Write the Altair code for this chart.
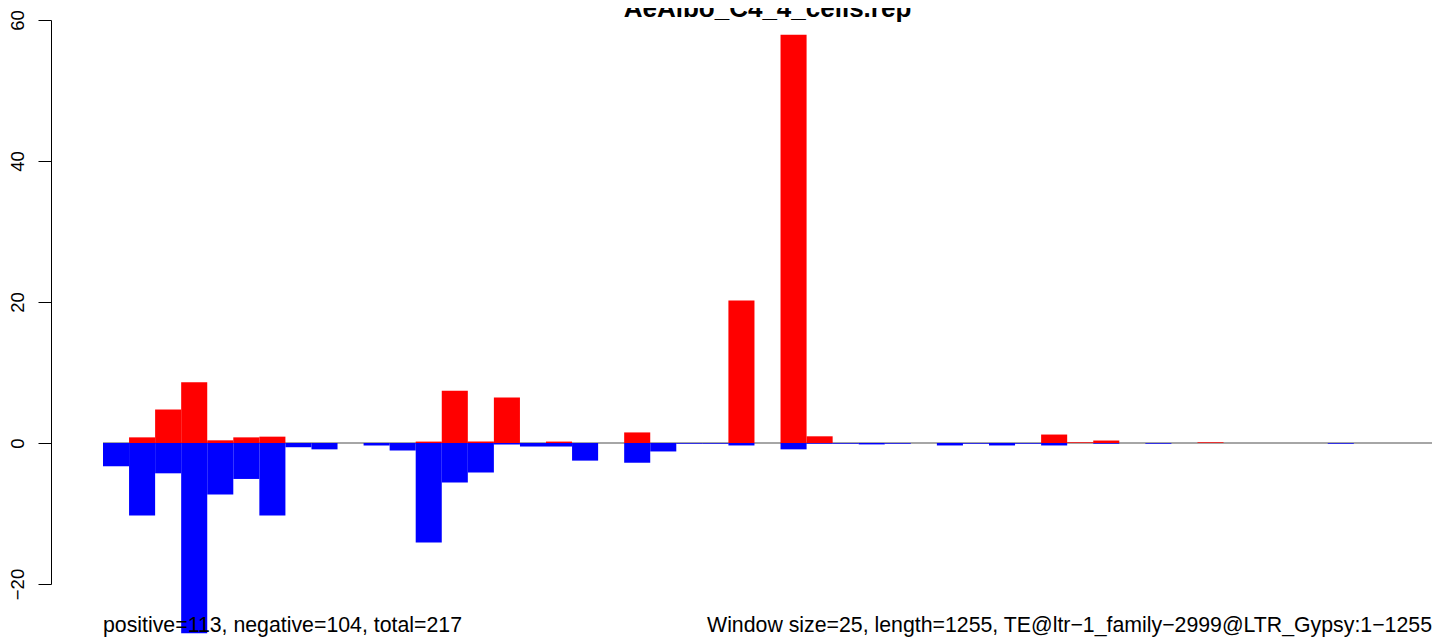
import altair as alt
import pandas as pd

# ---- data ----
title_text = "AeAlbo_C4_4_cells.rep"
left_note = "positive=113, negative=104, total=217"
right_note = "Window size=25, length=1255, TE@ltr\u22121_family\u22122999@LTR_Gypsy:1\u22121255"

positive = [0, 0.8, 4.75, 8.6, 0.38, 0.8, 0.9, 0, 0, 0,
            0, 0, 0.2, 7.4, 0.2, 6.45, 0, 0.2, 0, 0,
            1.5, 0, 0, 0, 20.2, 0, 57.9, 0.95, 0, 0,
            0, 0, 0, 0, 0, 0, 1.2, 0.1, 0.35, 0,
            0, 0, 0.1, 0, 0, 0, 0, 0, 0, 0, 0]
negative = [-3.3, -10.3, -4.3, -27.0, -7.3, -5.1, -10.3, -0.6, -0.9, 0,
            -0.35, -1.05, -14.1, -5.6, -4.2, -0.2, -0.5, -0.5, -2.5, 0,
            -2.8, -1.2, -0.1, -0.1, -0.35, 0, -0.9, -0.1, -0.1, -0.2,
            -0.1, 0, -0.35, -0.1, -0.35, -0.1, -0.35, 0, -0.1, 0,
            -0.1, 0, 0, 0, 0, 0, 0, -0.1, 0, 0, 0]
y_ticks = [-20, 0, 20, 40, 60]
strands = ["positive", "negative"]
strand_colors = ["#ff0000", "#0000ff"]

n = len(positive)
rows = []
for i in range(n):
    rows.append({"bin": i, "bin_end": i + 1, "value": positive[i], "base": 0, "strand": "positive"})
    rows.append({"bin": i, "bin_end": i + 1, "value": negative[i], "base": 0, "strand": "negative"})
bars_df = pd.DataFrame(rows)
zero_df = pd.DataFrame({"x0": [0], "x1": [n], "y0": [0]})

FONT = "Liberation Sans"
W, H = 1329, 564

xs = alt.Scale(domain=[0, n], nice=False, zero=False)
ys = alt.Scale(domain=[y_ticks[0], y_ticks[-1]], nice=False, zero=False)
yaxis = alt.Axis(values=y_ticks, offset=52, tickSize=13, tickWidth=1, tickColor="black",
                 domainColor="black", domainWidth=1, labelAngle=270, labelAlign="center",
                 labelBaseline="alphabetic", labelPadding=15, labelFont=FONT, labelFontSize=18.5,
                 labelColor="black", grid=False, title=None, labelOverlap=False, labelFlush=False)

zero_line = alt.Chart(zero_df).mark_rule(color="#888888", strokeWidth=1.5).encode(
    x=alt.X("x0:Q", scale=xs, axis=None),
    x2="x1:Q",
    y=alt.Y("y0:Q", scale=ys, axis=yaxis),
)

bars = alt.Chart(bars_df).mark_rect(strokeWidth=0).encode(
    x=alt.X("bin:Q", scale=xs, axis=None),
    x2="bin_end:Q",
    y=alt.Y("value:Q", scale=ys, axis=yaxis),
    y2="base:Q",
    color=alt.Color("strand:N", scale=alt.Scale(domain=strands, range=strand_colors), legend=None),
)

left_text = alt.Chart(pd.DataFrame({"label": [left_note]})).mark_text(
    align="left", baseline="alphabetic", font=FONT, fontSize=21.3, color="black"
).encode(text="label:N", x=alt.value(0), y=alt.value(611.5))

right_text = alt.Chart(pd.DataFrame({"label": [right_note]})).mark_text(
    align="right", baseline="alphabetic", font=FONT, fontSize=21.3, color="black"
).encode(text="label:N", x=alt.value(W), y=alt.value(611.5))

title_mark = alt.Chart(pd.DataFrame({"label": [title_text]})).mark_text(
    align="center", baseline="alphabetic", font=FONT, fontSize=26, fontWeight="bold", color="black"
).encode(text="label:N", x=alt.value(W / 2), y=alt.value(-3))

chart = alt.layer(zero_line, bars, left_text, right_text, title_mark).properties(
    width=W, height=H,
    padding={"left": 95, "top": 12, "right": 4, "bottom": 57},
    autosize=alt.AutoSizeParams(type="none"),
    background="white",
).configure_view(stroke=None)

chart.save("out.html", embed_options={"renderer": "svg", "actions": False})
